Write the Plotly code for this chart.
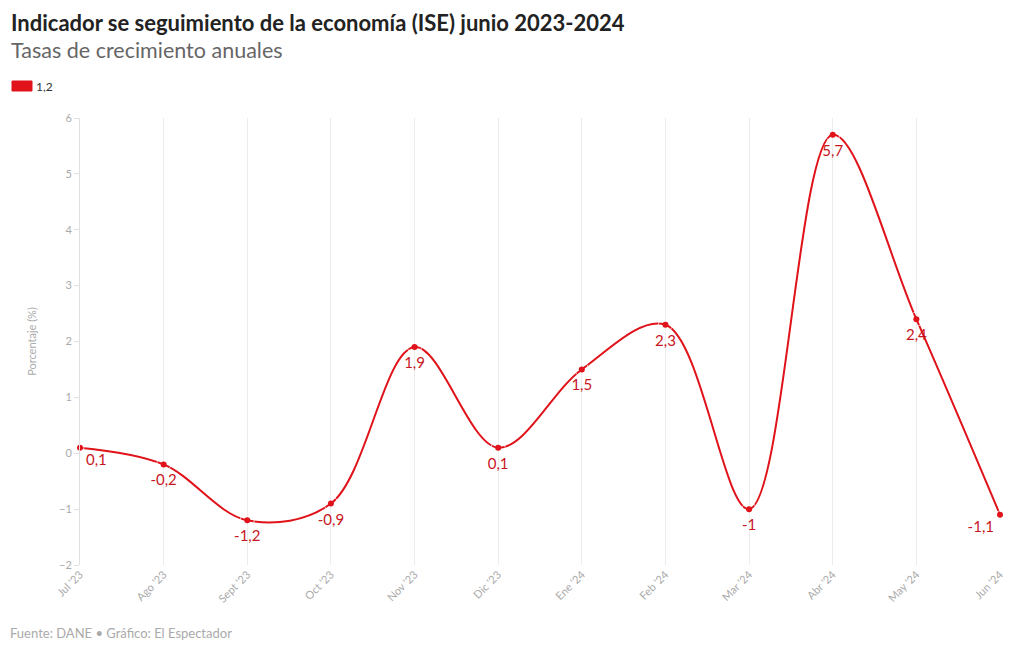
import plotly.graph_objects as go

meses = ["Jul '23", "Ago '23", "Sept '23", "Oct '23", "Nov '23", "Dic '23",
         "Ene '24", "Feb '24", "Mar '24", "Abr '24", "May '24", "Jun '24"]
valores = [0.1, -0.2, -1.2, -0.9, 1.9, 0.1, 1.5, 2.3, -1.0, 5.7, 2.4, -1.1]
serie = "1,2"
y_ticks = [-2, -1, 0, 1, 2, 3, 4, 5, 6]

RED = "#e0121a"
LABEL_RED = "#c8161e"
FONT = "Lato, 'Noto Sans', sans-serif"

etiquetas = [("%g" % v).replace(".", ",") for v in valores]
posiciones = ["bottom center"] * len(valores)
posiciones[0] = "bottom right"
posiciones[-1] = "bottom left"
tam = [14] * len(valores)
tam[0] = 8
tam[-1] = 8

fig = go.Figure()
fig.add_trace(go.Scatter(
    x=meses, y=valores, mode="lines+markers",
    line=dict(color=RED, width=2, shape="spline", smoothing=1.0),
    marker=dict(color=RED, size=6),
    showlegend=False, cliponaxis=False, name=serie, hoverinfo="x+y",
))
fig.add_trace(go.Scatter(
    x=meses, y=valores, mode="markers+text",
    marker=dict(color="rgba(0,0,0,0)", size=tam),
    text=etiquetas, textposition=posiciones,
    textfont=dict(color=LABEL_RED, size=15, family=FONT),
    showlegend=False, cliponaxis=False, hoverinfo="skip",
))

fig.update_layout(
    width=1020, height=650,
    paper_bgcolor="white", plot_bgcolor="white",
    margin=dict(l=80, r=20, t=118, b=85),
    font=dict(family=FONT, color="#999"),
    separators=",.",
    xaxis=dict(
        type="category", showgrid=True, gridcolor="#ececec", gridwidth=1,
        tickangle=-45, tickfont=dict(size=11, color="#aaa"),
        ticks="", showline=False, zeroline=False, range=[-0.0, 11.0],
    ),
    yaxis=dict(
        range=[-2, 6], tickvals=y_ticks, showgrid=False, zeroline=False,
        showline=True, linecolor="#e0e0e0", linewidth=1,
        ticks="outside", ticklen=5, tickcolor="#e0e0e0",
        tickfont=dict(size=11, color="#aaa"),
        title=dict(text="Porcentaje (%)", font=dict(size=11, color="#aaa"), standoff=20),
    ),
)

fig.add_annotation(
    text="<b>Indicador se seguimiento de la economía (ISE) junio 2023-2024</b>",
    xref="paper", yref="paper", x=-71/920, y=1 + 96/447, xanchor="left", yanchor="middle",
    showarrow=False, font=dict(size=22, color="#222", family=FONT),
)
fig.add_annotation(
    text="Tasas de crecimiento anuales",
    xref="paper", yref="paper", x=-71/920, y=1 + 68/447, xanchor="left", yanchor="middle",
    showarrow=False, font=dict(size=21.5, color="#666", family=FONT),
)
fig.add_shape(
    type="rect", xref="paper", yref="paper",
    x0=-68/920, x1=-48/920, y0=1 + 27/447, y1=1 + 37/447,
    fillcolor=RED, line=dict(color=RED, width=1),
)
fig.add_annotation(
    text=serie, xref="paper", yref="paper", x=-46/920, y=1 + 32/447,
    xanchor="left", yanchor="middle", showarrow=False,
    font=dict(size=12, color="#333", family=FONT),
)
fig.add_annotation(
    text="Fuente: DANE • Gráfico: El Espectador",
    xref="paper", yref="paper", x=-72/920, y=-68/447, xanchor="left", yanchor="middle",
    showarrow=False, font=dict(size=13, color="#aaa", family=FONT),
)

fig.write_html("out.html", config={"displayModeBar": False},
               post_script="document.body.style.margin='0';document.body.style.overflow='hidden';")
